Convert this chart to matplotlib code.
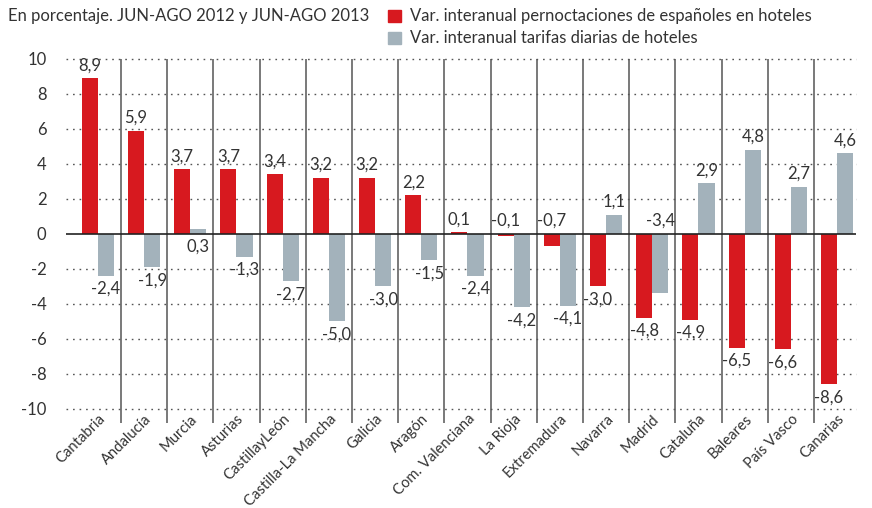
import matplotlib
matplotlib.use("Agg")
import matplotlib.pyplot as plt
import numpy as np
from matplotlib.patches import Rectangle

plt.rcParams["font.family"] = ["Lato", "DejaVu Sans"]
plt.rcParams["axes.unicode_minus"] = False

REGIONS = [
    "Cantabria", "Andalucía", "Murcia", "Asturias", "CastillayLeón",
    "Castilla-La Mancha", "Galicia", "Aragón", "Com. Valenciana", "La Rioja",
    "Extremadura", "Navarra", "Madrid", "Cataluña", "Baleares", "País Vasco",
    "Canarias",
]
PERNOCTACIONES = [8.9, 5.9, 3.7, 3.7, 3.4, 3.2, 3.2, 2.2, 0.1, -0.1, -0.7,
                  -3.0, -4.8, -4.9, -6.5, -6.6, -8.6]
TARIFAS = [-2.4, -1.9, 0.3, -1.3, -2.7, -5.0, -3.0, -1.5, -2.4, -4.2, -4.1,
           1.1, -3.4, 2.9, 4.8, 2.7, 4.6]

# labels drawn on the other side of the zero line (series, index)
FLIPPED = {("red", 9), ("red", 10), ("grey", 2), ("grey", 12)}

RED = "#d7191f"
GREY = "#a3b2bb"
TEXT = "#333333"
FS = 12

fig = plt.figure(figsize=(8.72, 5.08), dpi=100)
ax = fig.add_axes([0.0757, 0.1949, 0.9060, 0.6890])

x = np.arange(len(REGIONS))
w = 0.35
ax.bar(x - w / 2, PERNOCTACIONES, w, color=RED, zorder=3)
ax.bar(x + w / 2, TARIFAS, w, color=GREY, zorder=3)

ax.set_xlim(-0.69, 16.41)
ax.set_ylim(-10, 10)

for yv in range(-10, 11, 2):
    if yv == 0:
        continue
    ax.axhline(yv, color="#555555", lw=1, ls=(0, (1.2, 3.5)), zorder=1, clip_on=False)
ax.axhline(0, color="#222222", lw=1.2, zorder=4)

for b in x[:-1] + 0.5:
    ax.vlines(b, -10.8, 10, color="#555555", lw=1.1, zorder=2, clip_on=False)

off = 0.28
for name, vals, dx in (("red", PERNOCTACIONES, -w / 2), ("grey", TARIFAS, w / 2)):
    for i, v in enumerate(vals):
        s = f"{v:.1f}".replace(".", ",")
        if (name, i) in FLIPPED:
            y, va = (-off, "top") if v > 0 else (off, "bottom")
        else:
            y, va = (v + off, "bottom") if v >= 0 else (v - off, "top")
        ax.text(x[i] + dx, y, s, ha="center", va=va, fontsize=FS, color=TEXT, zorder=5)

for sp in ax.spines.values():
    sp.set_visible(False)
ax.set_yticks(range(-10, 11, 2))
ax.tick_params(axis="y", length=0, pad=14, labelsize=FS, labelcolor=TEXT)
ax.set_xticks(x)
ax.set_xticklabels(REGIONS, rotation=45, ha="right", rotation_mode="anchor")
ax.tick_params(axis="x", length=0, pad=2, labelsize=10.6, labelcolor=TEXT)

fig.text(8 / 872, 1 - 16 / 508, "En porcentaje. JUN-AGO 2012 y JUN-AGO 2013",
         fontsize=FS, color=TEXT, va="center", ha="left")
for k, (c, lab) in enumerate(((RED, "Var. interanual pernoctaciones de españoles en hoteles"),
                              (GREY, "Var. interanual tarifas diarias de hoteles"))):
    yc = 16 + k * 22
    fig.patches.append(Rectangle((388 / 872, 1 - (yc + 6) / 508), 13 / 872, 12 / 508,
                                 transform=fig.transFigure, color=c))
    fig.text(410 / 872, 1 - yc / 508, lab, fontsize=FS, color=TEXT, va="center", ha="left")

fig.savefig("out.png", dpi=100, facecolor="white")
